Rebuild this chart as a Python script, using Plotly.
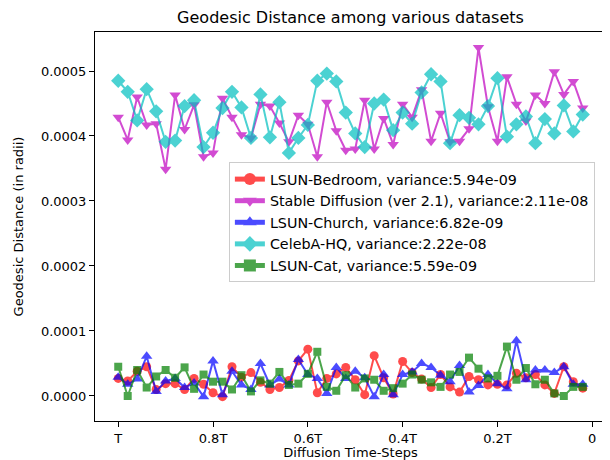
import plotly.graph_objects as go

# Diffusion time-steps (T = 1000), drawn from T down to near 0
timesteps = [1000, 980, 960, 940, 920, 900, 880, 860, 840, 820,
             800, 780, 760, 740, 720, 700, 680, 660, 640, 620,
             600, 580, 560, 540, 520, 500, 480, 460, 440, 420,
             400, 380, 360, 340, 320, 300, 280, 260, 240, 220,
             200, 180, 160, 140, 120, 100, 80, 60, 40, 20]

tick_vals = [1000, 800, 600, 400, 200, 0]
tick_text = ["T", "0.8T", "0.6T", "0.4T", "0.2T", "0"]

# values in units of 1e-4 radii
UNIT = 1e-4
lsun_bedroom = [0.27, 0.23, 0.38, 0.45, 0.10, 0.19, 0.19, 0.10, 0.27, 0.18,
                0.05, -0.01, 0.45, 0.29, 0.36, 0.21, 0.10, 0.13, 0.24, 0.54,
                0.72, 0.05, 0.27, 0.34, 0.44, 0.25, 0.02, 0.62, 0.28, 0.03,
                0.53, 0.36, 0.26, 0.13, 0.33, 0.14, 0.06, 0.30, 0.25, 0.17,
                0.18, 0.17, 0.35, 0.28, 0.33, 0.17, 0.04, 0.45, 0.22, 0.12]
stable_diffusion = [4.29, 3.94, 4.60, 4.17, 4.19, 3.49, 4.63, 4.10, 4.48, 3.68,
                    3.74, 4.58, 4.29, 4.02, 3.97, 4.49, 4.46, 4.20, 3.91, 4.32,
                    4.18, 3.68, 4.52, 4.08, 3.78, 3.80, 4.55, 3.80, 4.27, 3.87,
                    4.49, 4.29, 4.71, 3.92, 4.35, 3.91, 3.92, 4.11, 5.36, 4.45,
                    3.92, 4.91, 4.49, 4.23, 4.63, 4.50, 4.99, 4.64, 4.84, 4.43]
lsun_church = [0.29, 0.18, 0.26, 0.61, 0.07, 0.23, 0.27, 0.13, 0.20, -0.01,
               0.54, 0.02, 0.38, 0.17, 0.10, 0.50, 0.17, 0.26, 0.17, 0.56,
               0.33, 0.27, 0.04, 0.44, 0.27, 0.38, 0.28, -0.01, 0.33, 0.02,
               0.33, 0.37, 0.50, 0.44, 0.32, 0.22, 0.47, 0.06, 0.16, 0.33,
               0.19, 0.11, 0.85, 0.25, 0.40, 0.40, 0.36, 0.45, 0.18, 0.18]
celeba_hq = [4.85, 4.68, 4.24, 4.72, 4.38, 3.91, 3.93, 4.46, 4.55, 3.83,
             4.05, 4.43, 4.68, 4.44, 3.97, 4.64, 3.98, 4.52, 3.74, 3.97,
             4.17, 4.85, 4.96, 4.84, 4.36, 4.04, 3.83, 4.50, 4.56, 4.09,
             4.36, 4.19, 4.67, 4.95, 4.84, 3.89, 4.32, 4.28, 4.18, 4.46,
             4.89, 3.99, 4.18, 4.30, 3.89, 4.26, 4.04, 4.47, 4.07, 4.33]
lsun_cat = [0.45, 0.00, 0.40, 0.13, 0.30, 0.40, 0.28, 0.44, 0.11, 0.33,
            0.22, 0.22, 0.10, 0.32, 0.07, 0.24, 0.19, 0.37, 0.17, 0.19,
            0.34, 0.68, 0.14, 0.08, 0.32, 0.13, 0.27, 0.25, 0.08, 0.12,
            0.19, 0.33, 0.25, 0.21, 0.14, 0.33, 0.37, 0.59, 0.42, 0.27,
            0.31, 0.76, 0.25, 0.43, 0.18, 0.25, 0.04, 0.00, 0.14, 0.14]

series_names = ["LSUN-Bedroom, variance:5.94e-09",
                "Stable Diffusion (ver 2.1), variance:2.11e-08",
                "LSUN-Church, variance:6.82e-09",
                "CelebA-HQ, variance:2.22e-08",
                "LSUN-Cat, variance:5.59e-09"]
series_values = [lsun_bedroom, stable_diffusion, lsun_church, celeba_hq, lsun_cat]
colors = ["#ff0000", "#bf00bf", "#0000ff", "#00bfbf", "#008000"]
symbols = ["circle", "triangle-down", "triangle-up", "diamond", "square"]
sizes = [9, 10, 10, 11, 8]

FONT = "DejaVu Sans"

fig = go.Figure()
for name, vals, col, sym, sz in zip(series_names, series_values, colors, symbols, sizes):
    fig.add_trace(go.Scatter(
        x=timesteps, y=[v * UNIT for v in vals], name=name,
        mode="lines+markers", opacity=0.7,
        line=dict(color=col, width=2),
        marker=dict(symbol=sym, size=sz, color=col, line=dict(width=0)),
    ))

# the page places the figure 8 px in from the top-left corner
fig.update_layout(
    width=602, height=452,
    margin=dict(l=87, r=4, t=24, b=39),
    paper_bgcolor="white", plot_bgcolor="white",
    font=dict(family=FONT, size=13, color="#000000"),
    title=dict(text="Geodesic Distance among various datasets",
               x=0.5, xref="paper", xanchor="center", y=0.980, yanchor="middle",
               font=dict(family=FONT, size=16, color="#000000")),
    showlegend=True,
    legend=dict(x=0.262, y=0.665, xanchor="left", yanchor="top",
                bgcolor="rgba(255,255,255,0.8)", bordercolor="#cccccc",
                borderwidth=1, font=dict(family=FONT, size=14.3),
                tracegroupgap=0, itemsizing="constant", itemwidth=30),
)
fig.update_xaxes(
    range=[1049, -29], tickmode="array", tickvals=tick_vals, ticktext=tick_text,
    showline=True, mirror=True, linecolor="#000000", linewidth=1,
    ticks="outside", ticklen=5, tickcolor="#000000", showgrid=False, zeroline=False,
    automargin=False,
    title=dict(text="Diffusion Time-Steps", standoff=1, font=dict(size=13)),
)
fig.update_yaxes(
    range=[-0.385e-4, 5.6e-4], tickmode="array",
    tickvals=[0, 1e-4, 2e-4, 3e-4, 4e-4, 5e-4],
    ticktext=["0.0000", "0.0001", "0.0002", "0.0003", "0.0004", "0.0005"],
    showline=True, mirror=True, linecolor="#000000", linewidth=1,
    ticks="outside", ticklen=5, tickcolor="#000000", showgrid=False, zeroline=False,
    automargin=False,
    title=dict(text="Geodesic Distance (in radii)", standoff=14, font=dict(size=13)),
)

fig.write_html("out.html")
